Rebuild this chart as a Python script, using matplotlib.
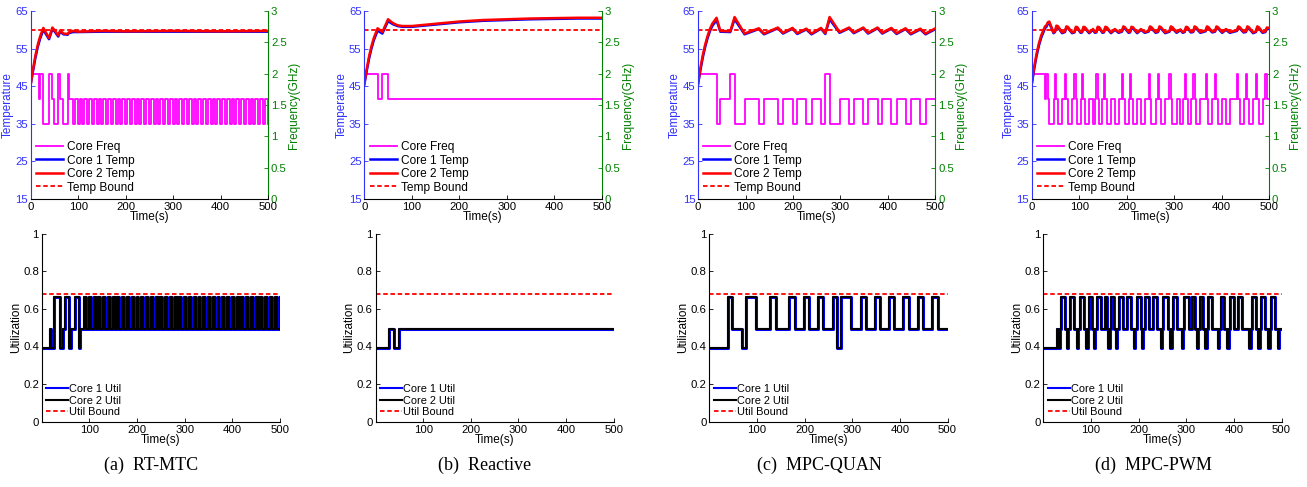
import matplotlib
matplotlib.use("Agg")
import matplotlib.pyplot as plt
from matplotlib.lines import Line2D

plt.rcParams['font.family'] = ['Liberation Sans', 'DejaVu Sans']

# frequency states: 0 -> 2.0 GHz, 1 -> 1.6 GHz, 2 -> 1.2 GHz
freq_levels = [2.0, 1.6, 1.2]
util_levels = [0.39, 0.495, 0.665]
temp_bound = 60
util_bound = 0.68

# ---- (a) RT-MTC ----
a_sw_t = [0, 17.5, 19.6, 25.5, 38.6, 45.6, 49, 58, 62, 69, 78, 80,
          89, 93, 99, 103, 109, 113, 119, 123, 129, 133, 139, 143, 149, 153, 159, 163, 169, 173, 179, 183,
          189, 193, 199, 203, 209, 213, 219, 223, 229, 233, 239, 243, 249, 253, 259, 263, 269, 273, 279, 283,
          289, 293, 299, 303, 309, 313, 319, 323, 329, 333, 339, 343, 349, 353, 359, 363, 369, 373, 379, 383,
          389, 393, 399, 403, 409, 413, 419, 423, 429, 433, 439, 443, 449, 453, 459, 463, 469, 473, 479, 483,
          489, 493, 499]
a_state = [0, 1, 0, 2, 0, 1, 2, 0, 1, 2, 0, 1,
           2, 1, 2, 1, 2, 1, 2, 1, 2, 1, 2, 1, 2, 1, 2, 1, 2, 1, 2, 1,
           2, 1, 2, 1, 2, 1, 2, 1, 2, 1, 2, 1, 2, 1, 2, 1, 2, 1, 2, 1,
           2, 1, 2, 1, 2, 1, 2, 1, 2, 1, 2, 1, 2, 1, 2, 1, 2, 1, 2, 1,
           2, 1, 2, 1, 2, 1, 2, 1, 2, 1, 2, 1, 2, 1, 2, 1, 2, 1, 2, 1,
           2, 1, 2]
a_temp_t = [0, 5, 10, 15, 20, 26.6, 38.6, 45.6, 49, 58, 62, 69, 78, 80, 89, 100, 150, 200, 300, 400, 500]
a_temp1 = [45.5, 49.1, 52.6, 55.5, 57.7, 60.0, 57.5, 60.2, 59.8, 58.2, 59.5, 58.8, 58.7, 59.1, 59.4, 59.4,
           59.5, 59.5, 59.5, 59.5, 59.5]
a_temp2 = [45.5, 49.6, 53.2, 56.1, 58.3, 60.5, 57.8, 60.6, 60.1, 58.5, 59.8, 59.0, 58.9, 59.3, 59.7, 59.5,
           59.7, 59.6, 59.7, 59.6, 59.7]

# ---- (b) Reactive ----
b_sw_t = [0, 28, 38, 49]
b_state = [0, 1, 0, 1]
b_temp_t = [0, 5, 10, 15, 20, 28, 38, 50, 60, 70, 80, 100, 150, 200, 250, 300, 350, 400, 450, 500]
b_temp1 = [45.5, 49.0, 52.3, 55.0, 57.2, 59.8, 59.0, 62.3, 61.5, 61.0, 60.8, 60.8, 61.4, 62.0, 62.4, 62.6,
           62.8, 62.9, 63.0, 63.0]
b_temp2 = [45.5, 49.5, 52.9, 55.6, 57.8, 60.4, 59.4, 62.8, 61.8, 61.2, 61.0, 61.0, 61.6, 62.2, 62.6, 62.8,
           63.0, 63.1, 63.2, 63.2]

# ---- (c) MPC-QUAN ----
c_sw_t = [0, 39, 47, 68, 77, 98, 128, 139, 168, 179, 199, 209, 228, 239, 259, 268, 277, 298, 318, 328,
          348, 358, 378, 388, 407, 418, 437, 448, 468, 479]
c_state = [0, 2, 1, 0, 2, 1, 2, 1, 2, 1, 2, 1, 2, 1, 2, 0, 2, 1, 2, 1,
           2, 1, 2, 1, 2, 1, 2, 1, 2, 1]
c_temp_t = [0, 5, 10, 15, 20, 25, 30, 39, 47, 68, 77, 98, 128, 139, 168, 179, 199, 209, 228, 239, 259, 268,
            277, 298, 318, 328, 348, 358, 378, 388, 407, 418, 437, 448, 468, 479, 500]
c_temp1 = [45.5, 49.2, 52.6, 55.4, 57.7, 59.6, 61.0, 62.6, 59.5, 59.4, 62.8, 58.8, 60.2, 58.8, 60.4, 59.0,
           60.3, 58.9, 60.1, 58.8, 60.3, 58.9, 62.8, 59.2, 60.4, 59.1, 60.4, 59.0, 60.4, 59.0, 60.3, 58.9,
           60.2, 58.8, 60.1, 58.8, 60.2]
c_temp2 = [45.5, 49.8, 53.2, 56.0, 58.3, 60.2, 61.6, 63.2, 59.7, 59.6, 63.4, 59.0, 60.4, 59.0, 60.6, 59.2,
           60.5, 59.1, 60.3, 59.0, 60.5, 59.1, 63.4, 59.4, 60.6, 59.3, 60.6, 59.2, 60.6, 59.2, 60.5, 59.1,
           60.4, 59.0, 60.3, 59.0, 60.4]

# ---- (d) MPC-PWM ----
d_sw_t = [0, 28, 31, 34, 37, 46, 49, 52, 55, 64,
          70, 73, 76, 85, 90, 93, 96, 103, 106, 109,
          112, 121, 129, 133, 136, 139, 142, 149, 152, 155,
          158, 167, 175, 183, 190, 193, 196, 204, 207, 210,
          213, 222, 230, 238, 246, 249, 252, 261, 266, 269,
          272, 281, 290, 293, 296, 305, 313, 318, 322, 325,
          328, 335, 340, 343, 346, 355, 366, 369, 372, 380,
          386, 389, 392, 401, 409, 417, 432, 435, 438, 446,
          451, 454, 457, 466, 472, 475, 478, 486, 492, 495]
d_state = [0, 1, 0, 1, 2, 1, 0, 1, 2, 1,
           0, 1, 2, 1, 0, 1, 2, 1, 0, 1,
           2, 1, 2, 1, 0, 1, 2, 1, 0, 1,
           2, 1, 2, 1, 0, 1, 2, 1, 0, 1,
           2, 1, 2, 1, 0, 1, 2, 1, 0, 1,
           2, 1, 0, 1, 2, 1, 2, 1, 0, 1,
           2, 1, 0, 1, 2, 1, 0, 1, 2, 1,
           0, 1, 2, 1, 2, 1, 0, 1, 2, 1,
           0, 1, 2, 1, 0, 1, 2, 1, 0, 1]
d_temp_t = [0, 5, 10, 15, 20,
            28, 31, 34, 37, 46, 49, 52, 55, 64,
            70, 73, 76, 85, 90, 93, 96, 103, 106, 109,
            112, 121, 129, 133, 136, 139, 142, 149, 152, 155,
            158, 167, 175, 183, 190, 193, 196, 204, 207, 210,
            213, 222, 230, 238, 246, 249, 252, 261, 266, 269,
            272, 281, 290, 293, 296, 305, 313, 318, 322, 325,
            328, 335, 340, 343, 346, 355, 366, 369, 372, 380,
            386, 389, 392, 401, 409, 417, 432, 435, 438, 446,
            451, 454, 457, 466, 472, 475, 478, 486, 492, 495,
            500]
d_temp1 = [45.5, 49.4, 52.9, 55.7, 57.9,
           60.4, 60.8, 61.6, 61.8, 59.1, 59.4, 60.8, 60.7, 59.1,
           59.4, 60.6, 60.5, 59.1, 59.3, 60.5, 60.4, 59.2, 59.3, 60.5,
           60.4, 59.1, 60.0, 59.2, 59.3, 60.5, 60.4, 59.2, 59.3, 60.5,
           60.4, 59.1, 60.0, 59.2, 59.5, 60.6, 60.4, 59.2, 59.3, 60.5,
           60.4, 59.1, 60.0, 59.2, 59.5, 60.6, 60.4, 59.2, 59.4, 60.6,
           60.4, 59.1, 59.5, 60.6, 60.4, 59.2, 59.9, 59.2, 59.4, 60.5,
           60.4, 59.3, 59.4, 60.6, 60.4, 59.2, 59.6, 60.6, 60.4, 59.3,
           59.5, 60.6, 60.4, 59.2, 60.0, 59.2, 59.7, 60.6, 60.4, 59.3,
           59.4, 60.6, 60.4, 59.1, 59.4, 60.6, 60.4, 59.2, 59.4, 60.3,
           60.2]
d_temp2 = [45.5, 50.0, 53.5, 56.3, 58.5,
           60.9, 61.2, 62.0, 62.2, 59.3, 59.6, 61.1, 61.0, 59.3,
           59.6, 60.9, 60.8, 59.3, 59.5, 60.8, 60.7, 59.4, 59.5, 60.8,
           60.7, 59.3, 60.2, 59.4, 59.5, 60.8, 60.7, 59.4, 59.5, 60.8,
           60.7, 59.3, 60.2, 59.4, 59.7, 60.9, 60.7, 59.4, 59.5, 60.8,
           60.7, 59.3, 60.2, 59.4, 59.7, 60.9, 60.7, 59.4, 59.6, 60.9,
           60.7, 59.3, 59.7, 60.9, 60.7, 59.4, 60.1, 59.4, 59.6, 60.8,
           60.7, 59.5, 59.6, 60.9, 60.7, 59.4, 59.8, 60.9, 60.7, 59.5,
           59.7, 60.9, 60.7, 59.4, 60.2, 59.4, 59.9, 60.9, 60.7, 59.5,
           59.6, 60.9, 60.7, 59.3, 59.6, 60.9, 60.7, 59.4, 59.6, 60.6,
           60.5]

captions = ['(a)  RT-MTC', '(b)  Reactive', '(c)  MPC-QUAN', '(d)  MPC-PWM']

BLUE = '#0000ff'
AXBLUE = '#3030ff'
GREEN = '#008000'
MAGENTA = '#ff00ff'
RED = '#ff0000'

fig = plt.figure(figsize=(13.07, 4.87), dpi=100)

top_left = [30.7, 364.3, 698.0, 1031.7]
bot_left = [41.7, 375.5, 709.3, 1043.3]
W = 1307.0
H = 487.0


def style_ticks(ax, size=8.2):
    ax.tick_params(direction='in', length=3, width=0.6, labelsize=size, pad=2)


def draw_top(left, sw_t, state, temp_t, temp1, temp2):
    ax = fig.add_axes([left / W, 1 - 199 / H, 237.5 / W, 188 / H])
    ax2 = ax.twinx()
    f = [freq_levels[s] for s in state]
    ax2.step(sw_t + [500], f + [f[-1]], where='post', color=MAGENTA, lw=1.3)
    l1, = ax.plot(temp_t, temp1, color=BLUE, lw=1.8)
    l2, = ax.plot(temp_t, temp2, color=RED, lw=1.8)
    l3, = ax.plot([0, 500], [temp_bound, temp_bound], '--', color=RED, lw=1.3, dashes=(2.5, 1.5))
    ax.set_zorder(ax2.get_zorder() + 1)
    ax.patch.set_visible(False)

    ax.set_xlim(0, 500)
    ax.set_ylim(15, 65)
    ax.set_xticks([0, 100, 200, 300, 400, 500])
    ax.set_yticks([15, 25, 35, 45, 55, 65])
    ax2.set_ylim(0, 3)
    ax2.set_yticks([0, 0.5, 1, 1.5, 2, 2.5, 3])
    ax2.set_yticklabels(['0', '0.5', '1', '1.5', '2', '2.5', '3'])
    for s in ['top', 'right']:
        ax.spines[s].set_visible(False)
    for s in ['top', 'left', 'bottom']:
        ax2.spines[s].set_visible(False)
    ax.spines['left'].set_color(AXBLUE)
    ax.spines['left'].set_linewidth(0.8)
    ax.spines['bottom'].set_linewidth(0.8)
    ax2.spines['right'].set_color(GREEN)
    ax2.spines['right'].set_linewidth(0.8)
    style_ticks(ax)
    style_ticks(ax2)
    ax.tick_params(axis='x', pad=2.5)
    ax.tick_params(axis='y', colors=AXBLUE)
    ax2.tick_params(axis='y', colors=GREEN)
    ax.set_ylabel('Temperature', color=AXBLUE, fontsize=8.5, labelpad=1)
    ax2.set_ylabel('Frequency(GHz)', color=GREEN, fontsize=8.5, labelpad=1)
    ax.set_xlabel('Time(s)', fontsize=8.5, labelpad=-1)

    fq = Line2D([], [], color=MAGENTA, lw=1.3)
    ax.legend([fq, l1, l2, l3], ['Core Freq', 'Core 1 Temp', 'Core 2 Temp', 'Temp Bound'],
              loc='lower left', frameon=False, fontsize=8.6, handlelength=2.27,
              handletextpad=0.33, labelspacing=0.13, borderaxespad=0.15, borderpad=0.3)


def draw_bottom(left, sw_t, state):
    ax = fig.add_axes([left / W, 1 - 421.7 / H, 238.3 / W, 188 / H])
    u = [util_levels[s] for s in state]
    ax.step(sw_t + [500], u + [u[-1]], where='post', color=BLUE, lw=2.2)
    ax.step(sw_t + [500], u + [u[-1]], where='post', color='black', lw=1.5)
    ax.plot([0, 500], [util_bound, util_bound], '--', color=RED, lw=1.3, dashes=(2.5, 1.5))
    ax.set_xlim(0, 500)
    ax.set_ylim(0, 1)
    ax.set_xticks([100, 200, 300, 400, 500])
    ax.set_yticks([0, 0.2, 0.4, 0.6, 0.8, 1])
    ax.set_yticklabels(['0', '0.2', '0.4', '0.6', '0.8', '1'])
    for s in ['top', 'right']:
        ax.spines[s].set_visible(False)
    for s in ['left', 'bottom']:
        ax.spines[s].set_linewidth(0.8)
    style_ticks(ax)
    ax.tick_params(axis='x', pad=2.5)
    ax.set_ylabel('Utilization', fontsize=8.5, labelpad=1)
    ax.set_xlabel('Time(s)', fontsize=8.5, labelpad=-1)
    h1 = Line2D([], [], color=BLUE, lw=1.5)
    h2 = Line2D([], [], color='black', lw=1.5)
    h3 = Line2D([], [], color=RED, lw=1.3, ls='--', dashes=(2.5, 1.5))
    ax.legend([h1, h2, h3], ['Core 1 Util', 'Core 2 Util', 'Util Bound'],
              loc='lower left', frameon=False, fontsize=7.9, handlelength=2.0,
              handletextpad=0.12, labelspacing=0.15, borderaxespad=0.1, borderpad=0.3)


panels = [
    (a_sw_t, a_state, a_temp_t, a_temp1, a_temp2),
    (b_sw_t, b_state, b_temp_t, b_temp1, b_temp2),
    (c_sw_t, c_state, c_temp_t, c_temp1, c_temp2),
    (d_sw_t, d_state, d_temp_t, d_temp1, d_temp2),
]

for i, (sw_t, state, temp_t, temp1, temp2) in enumerate(panels):
    draw_top(top_left[i], sw_t, state, temp_t, temp1, temp2)
    draw_bottom(bot_left[i], sw_t, state)
    cx = top_left[i] + 120 + i * 0.5
    fig.text(cx / W, 1 - 465 / H, captions[i], ha='center', va='center',
             fontsize=13, family=['Liberation Serif', 'DejaVu Serif'])

fig.savefig('out.png', dpi=100)
